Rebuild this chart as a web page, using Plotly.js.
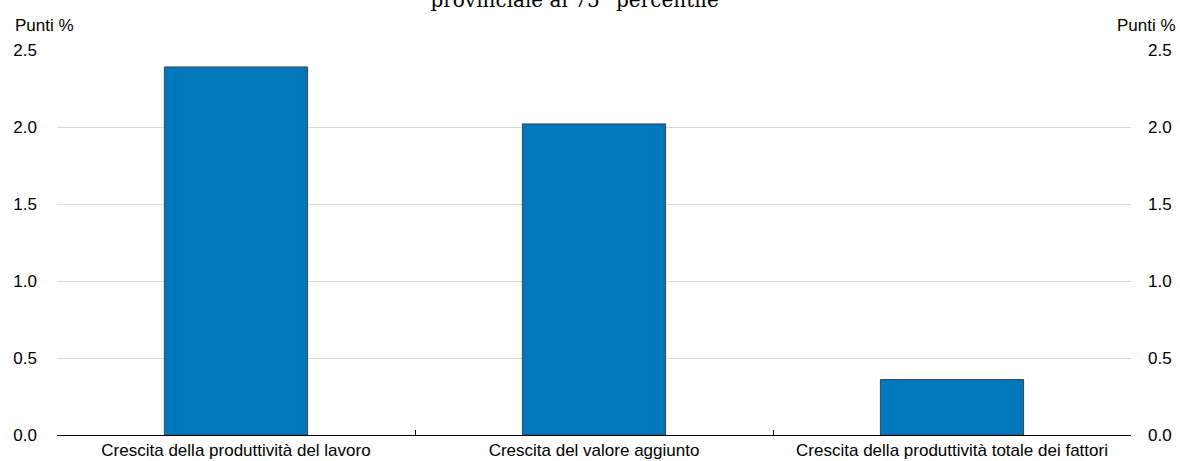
<!DOCTYPE html>
<html>
<head>
<meta charset="utf-8">
<script src="https://cdn.plot.ly/plotly-3.0.1.min.js"></script>
<style>html,body{margin:0;padding:0;background:#fff;}#chart{width:1180px;height:461px;}</style>
</head>
<body>
<div id="chart"></div>
<script>
const categories = ["Crescita della produttività del lavoro", "Crescita del valore aggiunto", "Crescita della produttività totale dei fattori"];
const values = [2.39, 2.02, 0.36];
const yTicks = [0, 0.5, 1, 1.5, 2, 2.5];
const yTickLabels = ["0.0", "0.5", "1.0", "1.5", "2.0", "2.5"];
const titleText = "provinciale al 75° percentile";
const unitLabel = "Punti %";

const font = {family: "Liberation Sans, Arial, sans-serif", size: 17, color: "#000"};

const traces = [
  {type: "bar", x: categories, y: values, width: 0.4,
   marker: {color: "#0078BE", line: {color: "#404040", width: 1}},
   hoverinfo: "skip", showlegend: false},
  {type: "scatter", x: categories, y: values, yaxis: "y2", mode: "markers",
   marker: {opacity: 0}, hoverinfo: "skip", showlegend: false}
];

const yCommon = {
  range: [0, 2.5], tickvals: yTicks, ticktext: yTickLabels,
  showgrid: true, gridcolor: "#d9d9d9", gridwidth: 1,
  zeroline: false, showline: false, ticks: "", tickfont: font, fixedrange: true
};

const layout = {
  width: 1180, height: 461,
  margin: {l: 57, r: 49, t: 50, b: 26},
  paper_bgcolor: "#fff", plot_bgcolor: "#fff",
  font: font,
  title: {text: titleText, x: 0.487, xref: "container", xanchor: "center", y: 1, yref: "container", yanchor: "middle",
          font: {family: "DejaVu Serif, Liberation Serif, serif", size: 20, color: "#000"}},
  xaxis: {type: "category", tickson: "boundaries", ticks: "inside", ticklen: 5, tickcolor: "#000", tickwidth: 1,
          showline: true, linecolor: "#000", linewidth: 1, showgrid: false, tickfont: font, fixedrange: true},
  yaxis: Object.assign({}, yCommon, {side: "left", ticklabelstandoff: 19}),
  yaxis2: Object.assign({}, yCommon, {side: "right", overlaying: "y", showgrid: false, ticklabelstandoff: 16}),
  annotations: [
    {text: unitLabel, xref: "paper", yref: "paper", x: -0.041, y: 1.0, xanchor: "left", yanchor: "middle", yshift: 25,
     showarrow: false, font: font},
    {text: unitLabel, xref: "paper", yref: "paper", x: 1.0438, y: 1.0, xanchor: "right", yanchor: "middle", yshift: 25,
     showarrow: false, font: font}
  ]
};

Plotly.newPlot("chart", traces, layout, {displayModeBar: false, staticPlot: true});
</script>
</body>
</html>
